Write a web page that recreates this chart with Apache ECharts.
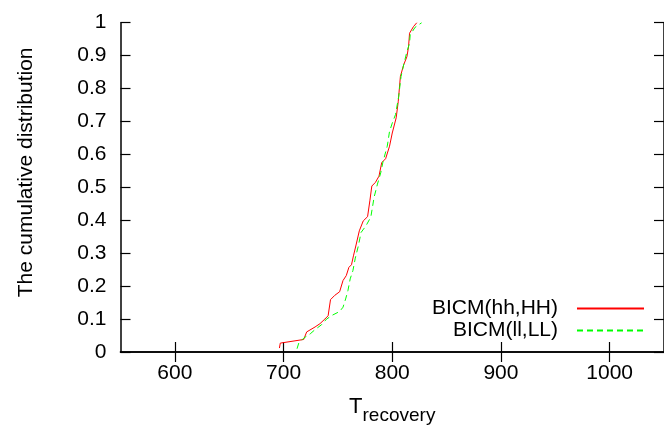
<!DOCTYPE html>
<html><head><meta charset="utf-8">
<script src="https://cdn.jsdelivr.net/npm/echarts@6/dist/echarts.min.js"></script>
<style>html,body{margin:0;padding:0;background:#fff}#c{width:664px;height:430px}</style>
</head><body><div id="c"></div>
<script>
const seriesNames = ['BICM(hh,HH)', 'BICM(ll,LL)'];
const xTicks = [600, 700, 800, 900, 1000];
const yTickStep = 0.1;
const xTitleMain = 'T';
const xTitleSub = 'recovery';
const yTitle = 'The cumulative distribution';

const redCurve = [
  [696.2,0.012],[697.0,0.027],[718.5,0.038],[721.3,0.061],[729.0,0.076],[733.5,0.086],
  [738.0,0.100],[741.0,0.110],[743.2,0.159],[747.1,0.172],[751.6,0.183],[754.7,0.217],
  [757.7,0.232],[760.1,0.257],[762.5,0.265],[764.3,0.292],[766.7,0.325],[769.7,0.368],
  [773.3,0.398],[777.3,0.411],[779.4,0.459],[781.2,0.504],[784.5,0.515],[787.8,0.534],
  [790.3,0.575],[793.9,0.587],[797.5,0.625],[800.0,0.665],[803.6,0.711],[805.5,0.760],
  [807.5,0.837],[810.5,0.872],[813.5,0.897],[815.0,0.927],[815.9,0.968],[819.5,0.988],
  [822.6,1.000]
];
const greenCurve = [
  [712.4,0.010],[714.0,0.027],[718.5,0.042],[724.5,0.055],[729.0,0.068],[735.0,0.083],
  [739.6,0.100],[745.0,0.112],[751.6,0.123],[754.7,0.136],[757.1,0.161],[759.2,0.186],
  [761.3,0.222],[763.8,0.247],[766.0,0.285],[768.8,0.322],[771.3,0.363],[775.8,0.383],
  [780.3,0.410],[783.3,0.470],[786.4,0.510],[789.4,0.544],[791.5,0.578],[795.4,0.625],
  [797.5,0.670],[800.0,0.695],[803.0,0.721],[805.9,0.776],[808.1,0.837],[810.5,0.872],
  [813.5,0.912],[815.9,0.938],[816.5,0.963],[821.0,0.986],[827.1,1.000]
];

const FONT = '"Liberation Sans", Arial, Helvetica, sans-serif';
const chart = echarts.init(document.getElementById('c'), null, {renderer: 'canvas'});
const axisLine = {show: true, lineStyle: {color: '#000', width: 1.5}};
const tick = {show: true, inside: true, length: 10, lineStyle: {color: '#000', width: 1.2}};

chart.setOption({
  animation: false,
  backgroundColor: '#fff',
  grid: {left: 120.5, top: 22.7, width: 552.5, height: 330.6, containLabel: false},
  legend: {
    orient: 'vertical', align: 'right', right: 19, top: 298,
    itemWidth: 67, itemHeight: 10, itemGap: 1, padding: 0,
    itemStyle: {opacity: 0},
    textStyle: {fontSize: 21, fontFamily: FONT, color: '#000', lineHeight: 21, padding: [0, 14, 0, 0]},
    data: seriesNames
  },
  xAxis: [
    {
      type: 'value', min: 550, max: 1050, position: 'bottom',
      axisLine: axisLine,
      axisTick: Object.assign({customValues: xTicks}, tick),
      axisLabel: {customValues: xTicks, fontSize: 21, fontFamily: FONT, color: '#000', margin: 11,
                  formatter: v => String(v)},
      splitLine: {show: false},
      name: '{T|' + xTitleMain + '}{s|' + xTitleSub + '}',
      nameLocation: 'middle', nameGap: 44,
      nameTextStyle: {
        rich: {
          T: {fontSize: 22, fontFamily: FONT, color: '#000', verticalAlign: 'top', lineHeight: 22},
          s: {fontSize: 19, fontFamily: FONT, color: '#000', verticalAlign: 'bottom', lineHeight: 29}
        }
      }
    },
    {
      type: 'value', min: 550, max: 1050, position: 'top',
      axisLine: axisLine,
      axisTick: Object.assign({customValues: xTicks}, tick),
      axisLabel: {show: false, customValues: xTicks},
      splitLine: {show: false}
    }
  ],
  yAxis: [
    {
      type: 'value', min: 0, max: 1, interval: yTickStep, position: 'left',
      axisLine: axisLine, axisTick: tick,
      axisLabel: {fontSize: 21, fontFamily: FONT, color: '#000', margin: 14},
      splitLine: {show: false},
      name: yTitle, nameLocation: 'middle', nameGap: 84,
      nameTextStyle: {fontSize: 21, fontFamily: FONT, color: '#000', padding: [0, 0, 0, 30]}
    },
    {
      type: 'value', min: 0, max: 1, interval: yTickStep, position: 'right',
      axisLine: axisLine, axisTick: tick,
      axisLabel: {show: false}, splitLine: {show: false}
    }
  ],
  series: [
    {
      name: seriesNames[0], type: 'line', data: redCurve, symbol: 'none',
      lineStyle: {color: '#ff0000', width: 1}, itemStyle: {color: '#ff0000'}
    },
    {
      name: seriesNames[1], type: 'line', data: greenCurve, symbol: 'none',
      lineStyle: {color: '#00ff00', width: 1, type: [6, 4]}, itemStyle: {color: '#00ff00'}
    }
  ]
});
</script>
</body></html>
